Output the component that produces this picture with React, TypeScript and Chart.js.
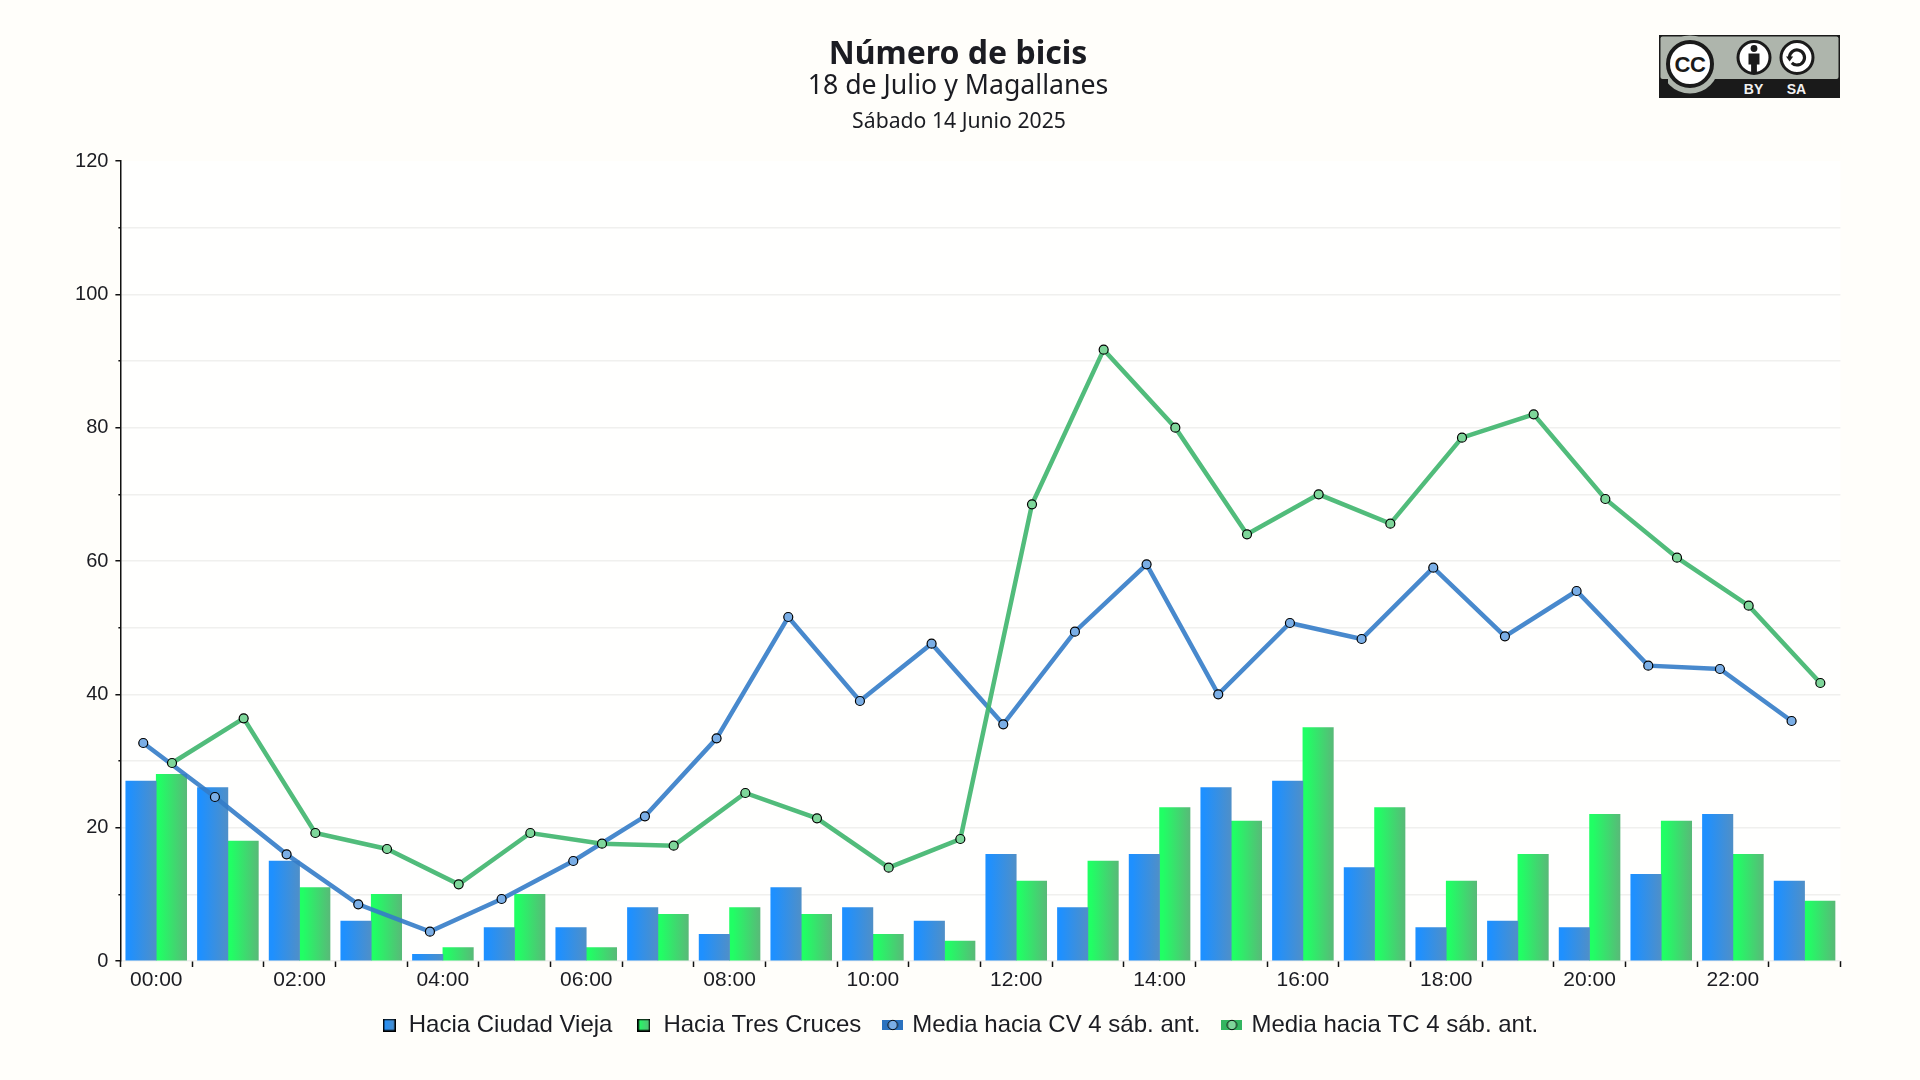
import React, { useEffect, useRef } from "react";
import { Chart, registerables } from "chart.js";

Chart.register(...registerables);

const hours = Array.from({ length: 24 }, (_, i) => `${String(i).padStart(2, "0")}:00`);
const towardCiudadVieja = [27, 26, 15, 6, 1, 5, 5, 8, 4, 11, 8, 6, 16, 8, 16, 26, 27, 14, 5, 6, 5, 13, 22, 12];
const towardTresCruces = [28, 18, 11, 10, 2, 10, 2, 7, 8, 7, 4, 3, 12, 15, 23, 21, 35, 23, 12, 16, 22, 21, 16, 9];
const meanCV = [32.7, 24.6, 16, 8.5, 4.4, 9.3, 15, 21.7, 33.4, 51.6, 39, 47.6, 35.5, 49.4, 59.5, 40, 50.7, 48.3, 59, 48.7, 55.5, 44.3, 43.8, 36];
const meanTC = [29.7, 36.4, 19.2, 16.8, 11.5, 19.2, 17.6, 17.3, 25.2, 21.4, 14, 18.3, 68.5, 91.7, 80, 64, 70, 65.6, 78.5, 82, 69.3, 60.5, 53.3, 41.7];
const legendNames = ["Hacia Ciudad Vieja", "Hacia Tres Cruces", "Media hacia CV 4 sáb. ant.", "Media hacia TC 4 sáb. ant."];
const titleLine = "Número de bicis";
const subtitleLine = "18 de Julio y Magallanes";
const dateLine = "Sábado 14 Junio 2025";
const offsetCV = -0.181;
const offsetTC = 0.22;
const BAR_W = 30.45;

const OUTER_BG = "#fffefa";
const PLOT_BG = "#fffffe";
const INK = "#1b1c22";
const BLUE_STOPS = ["#1e90ff", "#4f8fc8"];
const GREEN_STOPS = ["#20ff64", "#58ba78"];
const BLUE_LINE = "rgba(52,124,200,0.9)";
const GREEN_LINE = "rgba(66,182,112,0.92)";
const BLUE_POINT = "#7aaee6";
const GREEN_POINT = "#7ed69a";
const UI_FONT = "'Liberation Sans', Arial, sans-serif";
const TITLE_FONT = "'Noto Sans', sans-serif";

function barGradient(stops: string[], side: number) {
  return (c: any) => {
    const { chart, dataIndex } = c;
    const sx = chart.scales.x;
    if (!sx || !chart.chartArea || dataIndex === undefined) return stops[0];
    const center = sx.getPixelForValue(dataIndex);
    const left = side === 0 ? center - BAR_W : center;
    const g = chart.ctx.createLinearGradient(left, 0, left + BAR_W, 0);
    g.addColorStop(0.1, stops[0]);
    g.addColorStop(1, stops[1]);
    return g;
  };
}

function barSwatch(stops: string[]) {
  const cv = document.createElement("canvas");
  cv.width = 13;
  cv.height = 13;
  const x = cv.getContext("2d")!;
  const g = x.createLinearGradient(0, 0, 13, 0);
  g.addColorStop(0, stops[0]);
  g.addColorStop(1, stops[1]);
  x.fillStyle = g;
  x.fillRect(0, 0, 13, 13);
  x.strokeStyle = "#000";
  x.lineWidth = 1.5;
  x.strokeRect(0.75, 0.75, 11.5, 11.5);
  return cv;
}

function lineSwatch(band: string, dot: string) {
  const cv = document.createElement("canvas");
  cv.width = 21;
  cv.height = 12;
  const x = cv.getContext("2d")!;
  x.fillStyle = band;
  x.fillRect(0, 1, 21, 10);
  x.beginPath();
  x.arc(10.5, 6, 4.7, 0, Math.PI * 2);
  x.fillStyle = dot;
  x.fill();
  x.strokeStyle = "#000";
  x.lineWidth = 1;
  x.stroke();
  return cv;
}

const backdrop = {
  id: "backdrop",
  afterLayout(chart: any) {
    chart.boxes.forEach((b: any) => {
      if (b.options && typeof b.options.text === "string") {
        b.left -= 2;
        b.right -= 2;
      }
    });
  },
  beforeDraw(chart: any) {
    const { ctx, chartArea: a, width, height } = chart;
    ctx.save();
    ctx.fillStyle = OUTER_BG;
    ctx.fillRect(0, 0, width, height);
    ctx.fillStyle = PLOT_BG;
    ctx.fillRect(a.left, a.top, a.right - a.left, a.bottom - a.top);
    ctx.restore();
  },
  afterDraw(chart: any) {
    const { ctx, width } = chart;
    ctx.save();
    ctx.font = `21.2px ${TITLE_FONT}`;
    ctx.fillStyle = INK;
    ctx.textAlign = "center";
    ctx.textBaseline = "middle";
    ctx.fillText(dateLine, width / 2 - 1, 122);
    ctx.restore();
  },
};

function Badge() {
  const t = { fontFamily: UI_FONT, fontWeight: 700 } as const;
  return (
    <svg width={181} height={63} viewBox="0 0 181 63" style={{ position: "absolute", left: 1659, top: 35 }}>
      <rect width={181} height={63} fill="#1a1a1a" />
      <rect x={1.5} y={1.5} width={178} height={42.5} rx={2} fill="#aeb5ac" />
      <circle cx={31} cy={29.5} r={29} fill="#aeb5ac" />
      <rect x={0} y={44} width={9} height={19} fill="#1a1a1a" />
      <path d="M0 44H5C11 58 20 63 31 63H0Z" fill="#1a1a1a" />
      <path d="M58 44H181V63H31C44 63 53 56 58 44Z" fill="#1a1a1a" />
      <circle cx={31} cy={29} r={22} fill="#fff" stroke="#1a1a1a" strokeWidth={4} />
      <text x={31} y={37} textAnchor="middle" fontSize={22} fill="#1a1a1a" style={t} letterSpacing={-0.5}>CC</text>
      <circle cx={95} cy={22.5} r={16} fill="#fff" stroke="#1a1a1a" strokeWidth={3} />
      <circle cx={95} cy={13.5} r={3.4} fill="#1a1a1a" />
      <path d="M89.5 18.5h11v11h-2.6v9h-5.8v-9h-2.6z" fill="#1a1a1a" />
      <circle cx={138} cy={22.5} r={16} fill="#fff" stroke="#1a1a1a" strokeWidth={3} />
      <path d="M130.5 22.5a7.5 7.5 0 1 1 2.3 5.4" fill="none" stroke="#1a1a1a" strokeWidth={3.2} />
      <path d="M127 21.5h7.2l-3.6 5z" fill="#1a1a1a" />
      <text x={94.5} y={59} textAnchor="middle" fontSize={14} fill="#f2f2f2" style={t}>BY</text>
      <text x={137.5} y={59} textAnchor="middle" fontSize={14} fill="#f2f2f2" style={t}>SA</text>
    </svg>
  );
}

export default function App() {
  const ref = useRef<HTMLCanvasElement | null>(null);

  useEffect(() => {
    document.body.style.margin = "0";
    document.body.style.background = OUTER_BG;
    const chart = new Chart(ref.current!, {
      data: {
        labels: hours,
        datasets: [
          {
            type: "line",
            label: legendNames[3],
            data: meanTC.map((y, i) => ({ x: i + offsetTC, y })),
            xAxisID: "x2",
            order: 0,
            borderColor: GREEN_LINE,
            borderWidth: 4.5,
            pointRadius: 4.5,
            pointBackgroundColor: GREEN_POINT,
            pointBorderColor: "#000",
            pointBorderWidth: 1.2,
            tension: 0,
          },
          {
            type: "line",
            label: legendNames[2],
            data: meanCV.map((y, i) => ({ x: i + offsetCV, y })),
            xAxisID: "x2",
            order: 1,
            borderColor: BLUE_LINE,
            borderWidth: 4.5,
            pointRadius: 4.5,
            pointBackgroundColor: BLUE_POINT,
            pointBorderColor: "#000",
            pointBorderWidth: 1.2,
            tension: 0,
          },
          {
            type: "bar",
            label: legendNames[0],
            data: towardCiudadVieja,
            order: 2,
            backgroundColor: barGradient(BLUE_STOPS, 0),
            barThickness: BAR_W,
          },
          {
            type: "bar",
            label: legendNames[1],
            data: towardTresCruces,
            order: 3,
            backgroundColor: barGradient(GREEN_STOPS, 1),
            barThickness: BAR_W,
          },
        ],
      } as any,
      options: {
        responsive: false,
        animation: false,
        devicePixelRatio: 1,
        events: [],
        layout: { padding: { top: 39, right: 0, left: 0, bottom: 33 } },
        scales: {
          x: {
            type: "category",
            offset: true,
            afterFit: (s: any) => { s.height = 28; },
            border: { display: false },
            grid: {
              offset: true,
              drawOnChartArea: false,
              drawTicks: true,
              tickLength: 6,
              tickColor: "#111",
              tickWidth: 1.5,
            },
            ticks: {
              autoSkip: false,
              maxRotation: 0,
              minRotation: 0,
              padding: 1,
              color: INK,
              font: { family: UI_FONT, size: 21 },
              callback: (_v: any, i: number) => (i % 2 === 0 ? hours[i] : ""),
            },
          },
          x2: { type: "linear", min: -0.5, max: 23.5, display: false },
          y: {
            min: 0,
            max: 120,
            afterFit: (s: any) => { s.width = 120.4; },
            border: { display: true, color: "#111", width: 1.5 },
            grid: {
              color: (c: any) => (c.tick && c.tick.value === 120 ? "rgba(0,0,0,0)" : "#f0f0ee"),
              lineWidth: 1.5,
              tickLength: 5,
              tickColor: "#111",
              tickWidth: 1.5,
              tickBorderDash: (c: any) => (c.tick && c.tick.value % 20 !== 0 ? [0, 3, 2, 50] : []),
            },
            ticks: {
              stepSize: 10,
              autoSkip: false,
              padding: 7,
              color: INK,
              font: { family: UI_FONT, size: 20 },
              callback: (v: any) => (Number(v) % 20 === 0 ? String(v) : ""),
            },
          },
          rightGutter: {
            axis: "y",
            position: "right",
            display: true,
            min: 0,
            max: 1,
            afterFit: (s: any) => { s.width = 79.6; },
            border: { display: false },
            grid: { display: false, drawTicks: false },
            ticks: { display: false },
          },
        },
        plugins: {
          tooltip: { enabled: false },
          title: {
            display: true,
            text: titleLine,
            color: INK,
            font: { family: TITLE_FONT, size: 32, weight: "bold", lineHeight: 1 },
            padding: { top: 0, bottom: 2.5 },
          },
          subtitle: {
            display: true,
            text: subtitleLine,
            color: INK,
            font: { family: TITLE_FONT, size: 26.7, weight: "normal", lineHeight: 1 },
            padding: { top: 0, bottom: 60.8 },
          },
          legend: {
            display: true,
            position: "bottom",
            labels: {
              color: INK,
              font: { family: UI_FONT, size: 24 },
              boxWidth: 15,
              padding: 24,
              usePointStyle: true,
              generateLabels: () => [
                { text: legendNames[0], pointStyle: barSwatch(BLUE_STOPS), fillStyle: BLUE_STOPS[0], strokeStyle: "#000", lineWidth: 1, datasetIndex: 2, fontColor: INK },
                { text: legendNames[1], pointStyle: barSwatch(GREEN_STOPS), fillStyle: GREEN_STOPS[0], strokeStyle: "#000", lineWidth: 1, datasetIndex: 3, fontColor: INK },
                { text: legendNames[2], pointStyle: lineSwatch("#2a72bf", BLUE_POINT), fillStyle: BLUE_POINT, strokeStyle: "#000", lineWidth: 1, datasetIndex: 1, fontColor: INK },
                { text: legendNames[3], pointStyle: lineSwatch("#33b560", GREEN_POINT), fillStyle: GREEN_POINT, strokeStyle: "#000", lineWidth: 1, datasetIndex: 0, fontColor: INK },
              ],
            },
          },
        },
      } as any,
      plugins: [backdrop],
    });
    return () => chart.destroy();
  }, []);

  return (
    <div style={{ position: "relative", width: 1920, height: 1080, overflow: "hidden", background: OUTER_BG }}>
      <canvas ref={ref} width={1920} height={1080} style={{ display: "block", width: 1920, height: 1080 }} />
      <Badge />
    </div>
  );
}
